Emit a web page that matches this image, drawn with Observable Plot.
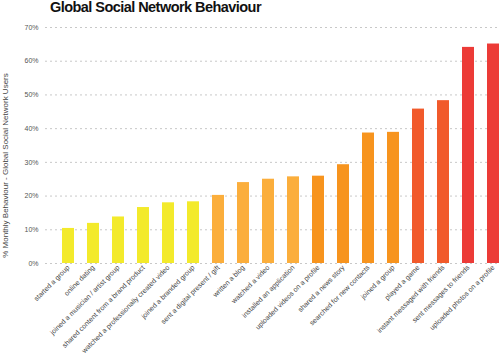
<!DOCTYPE html>
<html>
<head>
<meta charset="utf-8">
<script src="https://cdn.jsdelivr.net/npm/d3@7"></script>
<script src="https://cdn.jsdelivr.net/npm/@observablehq/plot@0.6"></script>
<style>
  html, body { margin: 0; padding: 0; background: #fff; }
  #wrap { position: relative; width: 500px; height: 353px; overflow: hidden; background: #fff; }
  #wrap svg { position: absolute; left: 0; top: 0; z-index: 1; }
  #title { position: absolute; z-index: 2; left: 50px; top: -1px; font-family: "Liberation Sans", Arial, sans-serif; font-weight: bold; font-size: 14.5px; letter-spacing: -0.55px; line-height: 17px; color: #111; white-space: nowrap; }
</style>
</head>
<body>
<div id="wrap"><div id="title">Global Social Network Behaviour</div></div>
<script>
const categories = [
  "started a group",
  "online dating",
  "joined a musician / artist group",
  "shared content from a brand product",
  "watched a professionally created video",
  "joined a branded group",
  "sent a digital present / gift",
  "written a blog",
  "watched a video",
  "installed an application",
  "uploaded videos on a profile",
  "shared a news story",
  "searched for new contacts",
  "joined a group",
  "played a game",
  "instant messaged with friends",
  "sent messages to friends",
  "uploaded photos on a profile"
];
const values = [10.4, 11.9, 13.8, 16.6, 18.0, 18.3, 20.2, 24.0, 25.0, 25.7, 25.9, 29.3, 38.7, 38.9, 45.8, 48.3, 64.1, 65.1];
const colors = [
  "#f3ea2b", "#f3ea2b", "#f3ea2b", "#f3ea2b", "#f3ea2b", "#f3ea2b",
  "#fbae3c", "#fbae3c", "#fbae3c", "#fbae3c",
  "#f7941e", "#f7941e", "#f7941e", "#f7941e",
  "#f15a2b", "#f15a2b",
  "#ec3b37", "#ec3b37"
];
const yTicks = [0, 10, 20, 30, 40, 50, 60, 70];
const yLabel = "% Monthly Behaviour - Global Social Network Users";

const data = categories.map((c, i) => ({category: c, value: values[i], color: colors[i]}));

const chart = Plot.plot({
  width: 500,
  height: 353,
  marginTop: 27,
  marginBottom: 90,
  marginLeft: 45,
  marginRight: 0,
  style: {fontFamily: "Liberation Sans, Arial, sans-serif", background: "transparent"},
  x: {domain: categories, paddingInner: 0.52, paddingOuter: 0.3, align: 0.94},
  y: {domain: [0, 70]},
  marks: [
    Plot.ruleY(yTicks, {stroke: "#c8c8c8", strokeDasharray: "2,3", strokeWidth: 1}),
    Plot.barY(data, {x: "category", y: "value", fill: "color"}),
    Plot.axisY({
      ticks: yTicks,
      tickSize: 0,
      tickPadding: 7,
      tickFormat: d => d + "%",
      fontSize: 7,
      color: "#555",
      label: null
    }),
    Plot.text([yLabel], {
      text: d => d,
      frameAnchor: "left",
      textAnchor: "middle",
      rotate: -90,
      dx: -40,
      dy: 20,
      fontSize: 8,
      fill: "#444"
    }),
    Plot.axisX({
      tickSize: 0,
      tickPadding: 3,
      tickRotate: -45,
      fontSize: 7,
      color: "#444",
      label: null
    })
  ]
});
document.getElementById("wrap").appendChild(chart);
</script>
</body>
</html>
